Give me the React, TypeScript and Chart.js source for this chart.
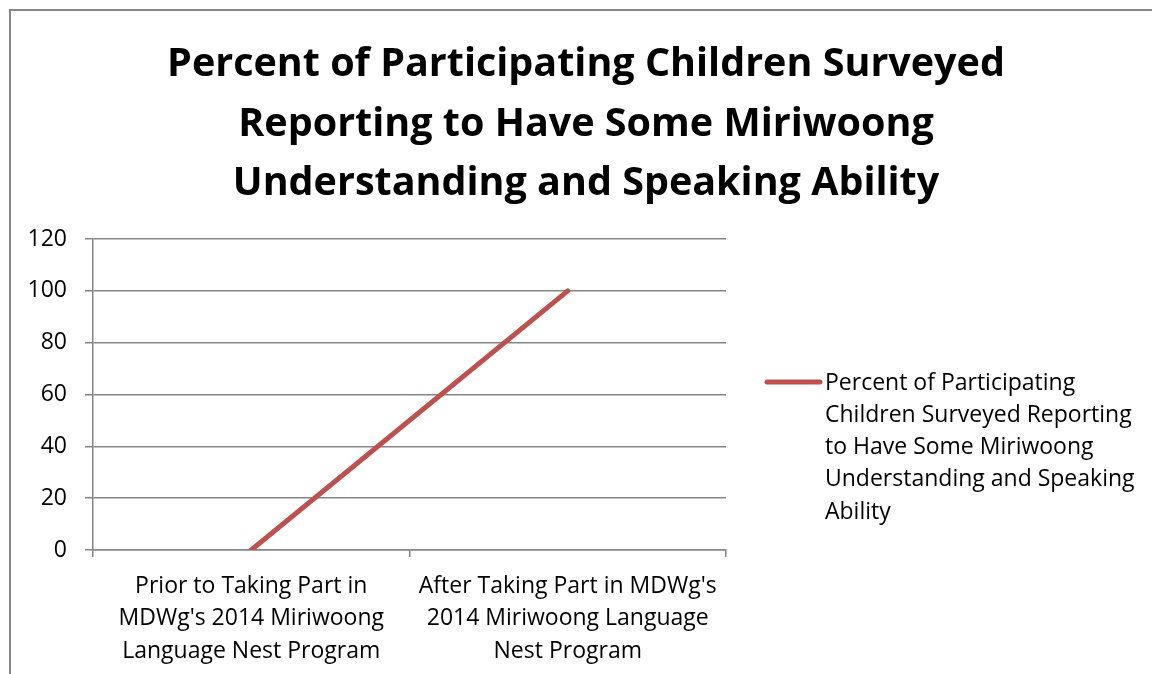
import React, { useEffect, useRef } from "react";
import { Chart, registerables } from "chart.js";

Chart.register(...registerables);

const titleLines = [
  "Percent of Participating Children Surveyed",
  "Reporting to Have Some Miriwoong",
  "Understanding and Speaking Ability",
];
const categories = [
  ["Prior to Taking Part in", "MDWg's 2014 Miriwoong", "Language Nest Program"],
  ["After Taking Part in MDWg's", "2014 Miriwoong Language", "Nest Program"],
];
const seriesName = "Percent of Participating Children Surveyed Reporting to Have Some Miriwoong Understanding and Speaking Ability";
const legendLines = [
  "Percent of Participating",
  "Children Surveyed Reporting",
  "to Have Some Miriwoong",
  "Understanding and Speaking",
  "Ability",
];
const values = [0, 100];
const yMin = 0;
const yMax = 120;
const yStep = 20;

const FONT = "'Open Sans', Lato, sans-serif";
const GREY = "#868686";
const RED = "#C0504D";

export default function App() {
  const ref = useRef<HTMLCanvasElement | null>(null);
  useEffect(() => {
    if (!ref.current) return;
    const decor = {
      id: "decor",
      beforeDraw(chart: any) {
        const ctx = chart.ctx;
        ctx.save();
        ctx.fillStyle = "#ffffff";
        ctx.fillRect(0, 0, chart.width, chart.height);
        ctx.strokeStyle = GREY;
        ctx.lineWidth = 2;
        ctx.strokeRect(10, 10, chart.width + 20, chart.height + 20);
        ctx.restore();
      },
      afterDraw(chart: any) {
        const ctx = chart.ctx;
        const ca = chart.chartArea;
        ctx.save();
        // title
        ctx.fillStyle = "#000";
        ctx.font = `bold 39.5px ${FONT}`;
        ctx.textAlign = "center";
        ctx.textBaseline = "middle";
        titleLines.forEach((t, i) => ctx.fillText(t, 586, 65 + i * 59.5));
        // legend
        const lx = ca.right + 41;
        const ly = ca.top + 143;
        ctx.strokeStyle = RED;
        ctx.lineWidth = 5;
        ctx.lineCap = "round";
        ctx.beginPath();
        ctx.moveTo(lx, ly);
        ctx.lineTo(lx + 53, ly);
        ctx.stroke();
        ctx.font = `23px ${FONT}`;
        ctx.textAlign = "left";
        legendLines.forEach((t, i) => ctx.fillText(t, lx + 58, ly + 1 + i * 32.3));
        ctx.restore();
      },
    };
    const chart = new Chart(ref.current, {
      type: "line",
      data: {
        labels: categories as any,
        datasets: [
          {
            label: seriesName,
            data: values,
            borderColor: RED,
            backgroundColor: RED,
            borderWidth: 5,
            pointRadius: 0,
            borderCapStyle: "round",
            tension: 0,
          },
        ],
      },
      options: {
        responsive: false,
        animation: false,
        layout: { padding: { top: 239, right: 426, left: 0, bottom: 0 } },
        plugins: {
          legend: { display: false },
          title: { display: false },
          tooltip: { enabled: false },
        },
        scales: {
          x: {
            offset: true,
            grid: {
              offset: true,
              drawOnChartArea: false,
              drawTicks: true,
              tickLength: 7,
              color: GREY,
              lineWidth: 1.5,
            },
            border: { color: GREY, width: 1.5 },
            ticks: {
              color: "#000",
              font: { family: FONT, size: 23, lineHeight: 1.41 },
              padding: 13,
              maxRotation: 0,
              autoSkip: false,
            },
            afterFit(scale: any) {
              scale.height = 124;
            },
          },
          y: {
            min: yMin,
            max: yMax,
            ticks: {
              stepSize: yStep,
              color: "#000",
              font: { family: FONT, size: 23 },
              padding: 18,
            },
            grid: { color: GREY, lineWidth: 1.5, tickLength: 8 },
            border: { color: GREY, width: 1.5 },
            afterFit(scale: any) {
              scale.width = 93;
            },
          },
        },
      },
      plugins: [decor],
    });
    return () => chart.destroy();
  }, []);
  return (
    <div style={{ position: "fixed", left: 0, top: 0, width: 1152, height: 674, background: "#fff" }}>
      <canvas ref={ref} width={1152} height={674} style={{ width: 1152, height: 674, display: "block" }} />
    </div>
  );
}
